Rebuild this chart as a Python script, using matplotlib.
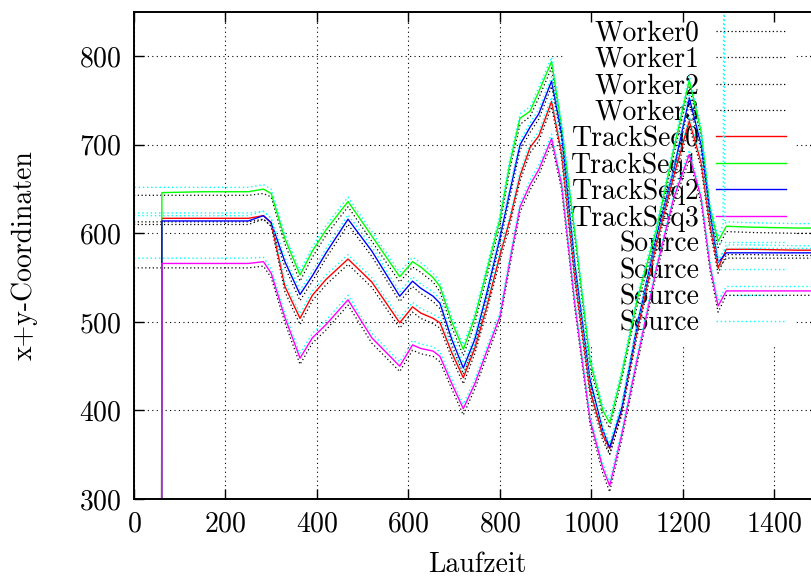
import matplotlib
matplotlib.use('Agg')
import matplotlib.pyplot as plt

# Schrift wie bei gnuplot/epslatex (Computer Modern)
plt.rcParams['font.family'] = ['cmr10', 'DejaVu Serif']
plt.rcParams['axes.formatter.use_mathtext'] = True
plt.rcParams['mathtext.fontset'] = 'cm'
plt.rcParams['font.size'] = 20

#------------------------------------------------------------------
# Messpunkte (Laufzeit) und Koordinaten x+y
#------------------------------------------------------------------
zeit = [61, 150, 250, 283, 300, 330, 363, 390, 420, 468, 520, 581, 609, 627, 654,
        669, 695, 720, 745, 770, 800, 822, 844, 866, 885, 913, 935, 964, 997, 1025,
        1040, 1066, 1100, 1142, 1180, 1214, 1240, 1259, 1277, 1295, 1350, 1450, 1600]
zeit_track = [60] + zeit
zeit_worker = [0] + zeit

track0 = [0, 617, 617, 617, 620, 612, 540, 504, 530, 548, 571, 545, 499, 517, 510, 504,
          499, 465, 437, 470, 515, 575, 616, 665, 697, 710, 749, 690, 550, 423, 372,
          357, 400, 490, 588, 665, 727, 680, 610, 561, 582, 582, 581, 581]
track1 = [0, 646, 647, 647, 650, 645, 594, 553, 580, 604, 636, 597, 551, 568, 562, 550,
          540, 500, 469, 505, 555, 616, 680, 730, 738, 760, 794, 720, 600, 457, 400,
          386, 440, 525, 604, 695, 773, 715, 630, 591, 608, 607, 606, 606]
track2 = [0, 614, 614, 614, 620, 612, 568, 531, 552, 578, 616, 580, 529, 546, 538, 529,
          521, 480, 448, 480, 530, 595, 648, 700, 720, 735, 772, 712, 565, 435, 378,
          358, 402, 496, 596, 672, 753, 700, 625, 567, 578, 578, 578, 578]
track3 = [0, 566, 566, 566, 568, 555, 505, 459, 482, 497, 525, 482, 450, 474, 470, 467,
          461, 430, 402, 430, 465, 506, 570, 630, 655, 672, 707, 655, 520, 390, 335,
          315, 372, 458, 560, 640, 689, 640, 565, 518, 535, 535, 535, 535]

worker0 = [613, 613, 613, 613, 616, 608, 534, 497, 524, 542, 565, 539, 493, 511, 504, 498,
           493, 459, 430, 464, 509, 569, 610, 659, 691, 704, 743, 684, 544, 417, 366,
           350, 394, 484, 582, 659, 721, 674, 604, 555, 576, 576, 575, 575]
worker1 = [643, 643, 643, 643, 645, 641, 588, 546, 573, 598, 630, 591, 545, 562, 556, 545,
           534, 494, 462, 498, 548, 609, 673, 723, 732, 753, 787, 714, 594, 450, 394,
           380, 434, 518, 597, 688, 766, 709, 624, 584, 602, 601, 600, 600]
worker2 = [610, 610, 610, 610, 616, 608, 562, 524, 546, 572, 610, 574, 523, 540, 532, 523,
           515, 474, 441, 474, 524, 589, 641, 694, 714, 729, 766, 706, 559, 429, 372,
           351, 396, 490, 590, 666, 747, 694, 619, 560, 572, 572, 572, 572]
worker3 = [561, 561, 561, 561, 563, 550, 499, 452, 476, 491, 519, 476, 444, 468, 464, 461,
           455, 424, 395, 424, 459, 500, 564, 624, 649, 666, 701, 649, 514, 384, 329,
           308, 366, 452, 554, 634, 683, 634, 559, 511, 530, 530, 530, 530]

source0 = [623, 623, 623, 623, 625, 617, 545, 509, 535, 553, 576, 550, 504, 522, 515, 509,
           504, 470, 442, 475, 520, 580, 621, 670, 702, 715, 754, 695, 555, 428, 377,
           362, 405, 495, 593, 670, 732, 685, 615, 566, 587, 587, 586, 586]
# Source1 hat einen Startwert und einen Ausreisser bei ca. 1290
zeit_source1 = [0, 1, 61, 150, 250, 283, 300, 330, 363, 390, 420, 468, 520, 581, 609, 627,
                654, 669, 695, 720, 745, 770, 800, 822, 844, 866, 885, 913, 935, 964, 997,
                1025, 1040, 1066, 1100, 1142, 1180, 1214, 1240, 1259, 1277, 1288, 1290,
                1292, 1295, 1350, 1450, 1600]
source1 = [525, 652, 652, 652, 652, 655, 650, 599, 558, 585, 609, 641, 602, 556, 573, 567,
           555, 545, 505, 474, 510, 560, 621, 685, 735, 743, 765, 799, 725, 605, 462,
           405, 391, 445, 530, 609, 700, 778, 720, 635, 596, 610, 1000,
           611, 613, 612, 611, 611]
source2 = [620, 620, 620, 620, 625, 617, 573, 536, 557, 583, 621, 585, 534, 551, 543, 534,
           526, 485, 453, 485, 535, 600, 653, 705, 725, 740, 777, 717, 570, 440, 383,
           363, 407, 501, 601, 677, 758, 705, 630, 572, 583, 583, 583, 583]
source3 = [572, 572, 572, 572, 573, 560, 510, 464, 487, 502, 530, 487, 455, 479, 475, 472,
           466, 435, 407, 435, 470, 511, 575, 635, 660, 677, 712, 660, 525, 395, 340,
           320, 377, 463, 565, 645, 694, 645, 570, 523, 540, 540, 540, 540]

fig = plt.figure(figsize=(8.11, 5.77), dpi=100)
# Achse ragt rechts ueber das Bild hinaus (wie im Original abgeschnitten)
ax = fig.add_axes([0.1652, 0.1352, 0.846, 0.844])
ax.set_axisbelow(False)

punktiert = (0, (1, 2))

workers = [worker0, worker1, worker2, worker3]
for i, w in enumerate(workers):
    ax.plot(zeit_worker, w, color='black', lw=0.9, ls=punktiert, label='Worker%d' % i)

tracks = [track0, track1, track2, track3]
farben = ['#ff0000', '#00ff00', '#0000ff', '#ff00ff']
for i, t in enumerate(tracks):
    ax.plot(zeit_track, t, color=farben[i], lw=1.0, label='TrackSeq%d' % i)

ax.plot(zeit_worker, source0, color='#00ffff', lw=1.0, ls=punktiert, label='Source')
ax.plot(zeit_source1, source1, color='#00ffff', lw=1.0, ls=punktiert, label='Source')
ax.plot(zeit_worker, source2, color='#00ffff', lw=1.0, ls=punktiert, label='Source')
ax.plot(zeit_worker, source3, color='#00ffff', lw=1.0, ls=punktiert, label='Source')

ax.set_xlim(0, 1500)
ax.set_ylim(300, 850)
ax.set_xticks(range(0, 1401, 200))
ax.set_yticks(range(300, 801, 100))

# Gitter von Hand, damit die Legende es verdecken kann
for xt in ax.get_xticks():
    ax.axvline(xt, color='black', lw=0.8, ls=(0, (1, 3)), zorder=1)
for yt in ax.get_yticks():
    ax.axhline(yt, color='black', lw=0.8, ls=(0, (1, 3)), zorder=1)

ax.tick_params(direction='in', top=True, right=True, length=7, width=1, pad=9)
for s in ax.spines.values():
    s.set_linewidth(1.4)

ax.set_xlabel('Laufzeit', labelpad=10)
ax.set_ylabel('x+y-Coordinaten', labelpad=30)

leg = ax.legend(loc='upper right', bbox_to_anchor=(0.963, 1.0), borderaxespad=0,
                markerfirst=False, frameon=True, fancybox=False, framealpha=1,
                edgecolor='white', facecolor='white', handlelength=2.55,
                handletextpad=0.58, labelspacing=0.0, borderpad=0.3)
leg.set_zorder(1.9)

fig.savefig('out.png', dpi=100)
